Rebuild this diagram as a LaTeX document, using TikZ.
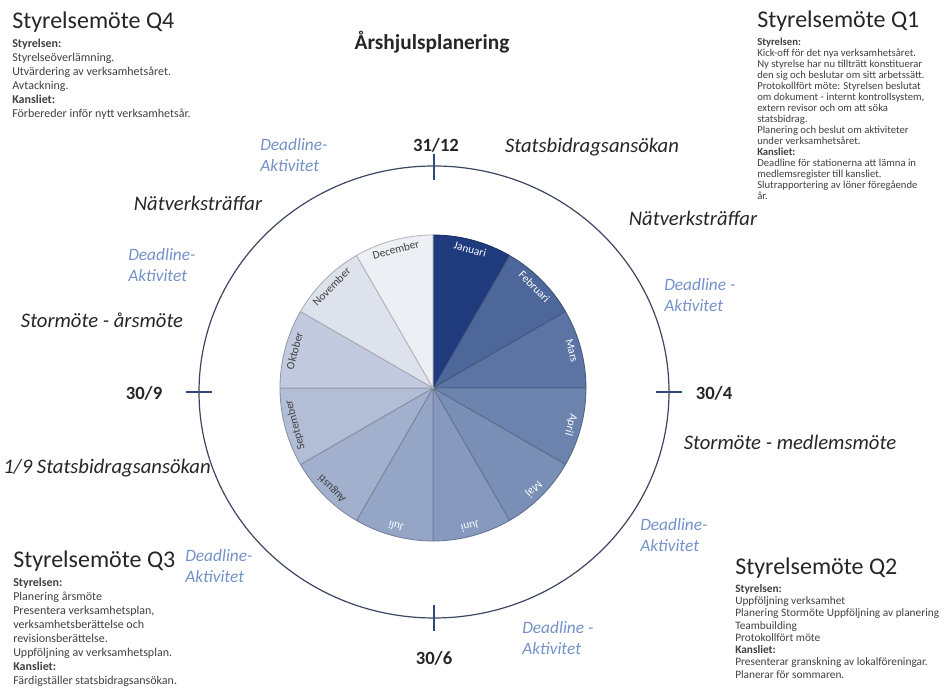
\documentclass[tikz,border=0pt]{standalone}
\usepackage{fontspec}
\setmainfont{Carlito}
\usetikzlibrary{positioning}
\definecolor{m1}{HTML}{1F3B7D}
\definecolor{m2}{HTML}{4E679A}
\definecolor{m3}{HTML}{5C74A4}
\definecolor{m4}{HTML}{6C83AE}
\definecolor{m5}{HTML}{7A8FB6}
\definecolor{m6}{HTML}{8799BE}
\definecolor{m7}{HTML}{94A5C6}
\definecolor{m8}{HTML}{A2B0CE}
\definecolor{m9}{HTML}{B2BDD6}
\definecolor{m10}{HTML}{C2CADF}
\definecolor{m11}{HTML}{DEE2EC}
\definecolor{m12}{HTML}{EDEFF5}
\definecolor{lab}{HTML}{404040}
\definecolor{ink}{HTML}{262626}
\definecolor{dlblue}{HTML}{7392C8}
\definecolor{ring}{HTML}{3C4660}
\definecolor{tickc}{HTML}{2F4A7A}
\begin{document}
\begin{tikzpicture}[x=0.75pt,y=0.75pt,
    month/.style={font=\fontsize{8.5}{10}\selectfont, inner sep=1pt},
    event/.style={font=\fontsize{15.5}{18}\selectfont\itshape, text=ink, inner sep=0pt},
    deadline/.style={font=\fontsize{13}{15.75}\selectfont\itshape, text=dlblue, align=left, anchor=north west, inner sep=0pt},
    datum/.style={font=\fontsize{14}{16}\selectfont\bfseries, text=ink, inner sep=0pt},
    boardtitle/.style={font=\fontsize{18}{20}\selectfont, text=ink, anchor=base west, inner sep=0pt},
    board/.style={text=lab, align=left, anchor=north west, inner sep=0pt}]
  \useasboundingbox (0,0) rectangle (951,692);
  \coordinate (c) at (433,304);
  \coordinate (o) at (434,300);

  \foreach \m/\col/\txt [count=\i] in {Januari/m1/white, Februari/m2/white, Mars/m3/white,
      April/m4/white, Maj/m5/white, Juni/m6/white, Juli/m7/white, Augusti/m8/lab,
      September/m9/lab, Oktober/m10/lab, November/m11/lab, December/m12/lab} {
    \pgfmathsetmacro\a{90-30*(\i-1)}
    \pgfmathsetmacro\b{\a-30}
    \pgfmathsetmacro\mid{\a-15}
    \filldraw[fill=\col, draw=\col!75!black, line width=0.6pt] (c) -- ([shift={(\a:153)}]c)
      arc[start angle=\a, end angle=\b, radius=153] -- cycle;
    \node[month, text=\txt, rotate=\mid-90, anchor=north] (\m) at ([shift={(\mid:149)}]c) {\m};
  }

  \draw[ring, line width=0.9pt] (o) ellipse[x radius=235, y radius=226];
  \draw[tickc, line width=0.9pt] (434,512) -- (434,538);
  \draw[tickc, line width=0.9pt] (434,61) -- (434,87);
  \draw[tickc, line width=0.9pt] (186,300) -- (212,300);
  \draw[tickc, line width=0.9pt] (656,300) -- (682,300);

  \node[font=\fontsize{16}{18}\selectfont\bfseries, text=ink] (title) at (432,650) {Årshjulsplanering};

  \node[datum] (d1) at (436,547) {31/12};
  \node[datum] (d2) at (714,299) {30/4};
  \node[datum] (d3) at (434,34) {30/6};
  \node[datum] (d4) at (144,299) {30/9};

  \node[event] (e1) at (592,545) {Statsbidragsansökan};
  \node[event] (e2) at (693,474) {Nätverksträffar};
  \node[event] (e3) at (790,250) {Stormöte - medlemsmöte};
  \node[event] (e4) at (107,224) {1/9 Statsbidragsansökan};
  \node[event] (e5) at (102,372) {Stormöte - årsmöte};
  \node[event] (e6) at (198,489) {Nätverksträffar};

  \node[deadline] (dl1) at (260,554) {Deadline-\\Aktivitet};
  \node[deadline] (dl2) at (664,414) {Deadline -\\Aktivitet};
  \node[deadline] (dl3) at (640,174) {Deadline-\\Aktivitet};
  \node[deadline] (dl4) at (522,71) {Deadline -\\Aktivitet};
  \node[deadline] (dl5) at (185,143) {Deadline-\\Aktivitet};
  \node[deadline] (dl6) at (128,444) {Deadline-\\Aktivitet};

  \node[boardtitle] (q4) at (12,663) {Styrelsemöte Q4};
  \node[board, font=\fontsize{9}{10.5}\selectfont] (q4text) at (12,653) {\textbf{Styrelsen:}\\
    Styrelseöverlämning.\\Utvärdering av verksamhetsåret.\\Avtackning.\\
    \textbf{Kansliet:}\\Förbereder inför nytt verksamhetsår.};

  \node[boardtitle] (q1) at (757,664) {Styrelsemöte Q1};
  \node[board, font=\fontsize{8}{8.25}\selectfont] (q1text) at (757,654) {\textbf{Styrelsen:}\\
    Kick-off för det nya verksamhetsåret.\\Ny styrelse har nu tillträtt konstituerar\\
    den sig och beslutar om sitt arbetssätt.\\Protokollfört möte: Styrelsen beslutat\\
    om dokument - internt kontrollsystem,\\extern revisor och om att söka\\statsbidrag.\\
    Planering och beslut om aktiviteter\\under verksamhetsåret.\\
    \textbf{Kansliet:}\\Deadline för stationerna att lämna in\\medlemsregister till kansliet.\\
    Slutrapportering av löner föregående\\år.};

  \node[boardtitle] (q3) at (13,124) {Styrelsemöte Q3};
  \node[board, font=\fontsize{9}{10.5}\selectfont] (q3text) at (13,114) {\textbf{Styrelsen:}\\
    Planering årsmöte\\Presentera verksamhetsplan,\\verksamhetsberättelse och\\
    revisionsberättelse.\\Uppföljning av verksamhetsplan.\\
    \textbf{Kansliet:}\\Färdigställer statsbidragsansökan.};

  \node[boardtitle] (q2) at (735,117) {Styrelsemöte Q2};
  \node[board, font=\fontsize{8.5}{9.2}\selectfont] (q2text) at (735,108) {\textbf{Styrelsen:}\\
    Uppföljning verksamhet\\Planering Stormöte Uppföljning av planering\\Teambuilding\\
    Protokollfört möte\\\textbf{Kansliet:}\\Presenterar granskning av lokalföreningar.\\
    Planerar för sommaren.};
\end{tikzpicture}
\end{document}
